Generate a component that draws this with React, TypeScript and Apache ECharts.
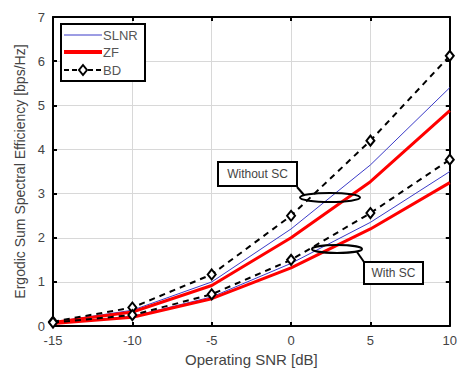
import React, { useEffect, useRef } from "react";
import * as echarts from "echarts";

const snr = [-15, -10, -5, 0, 5, 10];
const bdNoSC = [0.1, 0.42, 1.17, 2.5, 4.2, 6.12];
const slnrNoSC = [0.09, 0.36, 1.0, 2.2, 3.65, 5.4];
const zfNoSC = [0.08, 0.32, 0.92, 2.0, 3.27, 4.88];
const bdSC = [0.08, 0.25, 0.72, 1.5, 2.56, 3.77];
const slnrSC = [0.07, 0.22, 0.66, 1.42, 2.35, 3.5];
const zfSC = [0.06, 0.2, 0.62, 1.32, 2.2, 3.25];
const legendNames = ["SLNR", "ZF", "BD"];

const pair = (ys: number[]) => snr.map((x, i) => [x, ys[i]]);

export default function App() {
  const ref = useRef<HTMLDivElement>(null);
  useEffect(() => {
    if (!ref.current) return;
    const chart = echarts.init(ref.current, null, { renderer: "svg" });
    const font = "Liberation Sans, Arial, sans-serif";
    const blue = "#3b3bc8";
    const red = "#ff0000";
    const slnrStyle = { color: blue, width: 1 };
    const zfStyle = { color: red, width: 3 };
    const bdStyle = { color: "#000", width: 2, type: [6, 5] as any };
    const lineSeries = (name: string, data: number[], ls: any, z: number) => ({
      name,
      type: "line",
      data: pair(data),
      symbol: "none",
      lineStyle: ls,
      itemStyle: { color: ls.color },
      z,
    });
    const bdSeries = (data: number[]) => ({
      name: "BD",
      type: "line",
      data: pair(data),
      symbol: "diamond",
      symbolSize: [8, 10],
      lineStyle: bdStyle,
      itemStyle: { color: "#fff", borderColor: "#000", borderWidth: 2 },
      z: 5,
    });
    const axisCommon = {
      axisLine: { show: true, onZero: false, lineStyle: { color: "#000", width: 2 } },
      axisTick: { inside: true, length: 4, lineStyle: { color: "#000", width: 2 } },
      splitLine: { show: false },
    };
    const legendItems: any[] = [];
    const lx1 = 64;
    const lx2 = 102;
    const ly = [35, 52, 70];
    legendItems.push({
      type: "rect",
      shape: { x: 61, y: 24, width: 84, height: 57 },
      style: { fill: "#fff", stroke: "#000", lineWidth: 2 },
      z: 20,
    });
    legendItems.push({
      type: "line",
      shape: { x1: lx1, y1: ly[0], x2: lx2, y2: ly[0] },
      style: { stroke: blue, lineWidth: 1 },
      z: 21,
    });
    legendItems.push({
      type: "line",
      shape: { x1: lx1, y1: ly[1], x2: lx2, y2: ly[1] },
      style: { stroke: red, lineWidth: 4 },
      z: 21,
    });
    legendItems.push({
      type: "line",
      shape: { x1: lx1, y1: ly[2], x2: lx2, y2: ly[2] },
      style: { stroke: "#000", lineWidth: 2, lineDash: [5, 3] },
      z: 21,
    });
    legendItems.push({
      type: "polygon",
      shape: { points: [[83, ly[2] - 5], [87, ly[2]], [83, ly[2] + 5], [79, ly[2]]] },
      style: { fill: "#fff", stroke: "#000", lineWidth: 2 },
      z: 22,
    });
    legendNames.forEach((n, i) => {
      legendItems.push({
        type: "text",
        x: 103,
        y: ly[i],
        style: {
          text: n,
          fill: "#555",
          fontSize: 13,
          fontFamily: font,
          align: "left",
          verticalAlign: "middle",
        },
        z: 22,
      });
    });
    chart.setOption({
      animation: false,
      textStyle: { fontFamily: font },
      grid: { left: 53, right: 8, top: 17, bottom: 39, show: false },
      xAxis: [
        {
          type: "value",
          min: -15,
          max: 10,
          interval: 5,
          position: "bottom",
          name: "Operating SNR [dB]",
          nameLocation: "middle",
          nameGap: 24,
          nameTextStyle: { color: "#444", fontSize: 15, fontFamily: font },
          axisLabel: { color: "#444", fontSize: 13, margin: 8 },
          ...axisCommon,
          splitLine: { show: true, lineStyle: { color: "#d8d8d8", width: 1 } },
        },
        {
          type: "value",
          min: -15,
          max: 10,
          interval: 5,
          position: "top",
          axisLabel: { show: false },
          ...axisCommon,
        },
      ],
      yAxis: [
        {
          type: "value",
          min: 0,
          max: 7,
          interval: 1,
          position: "left",
          name: "Ergodic Sum Spectral Efficiency [bps/Hz]",
          nameLocation: "middle",
          nameGap: 24,
          nameTextStyle: { color: "#444", fontSize: 14, fontFamily: font },
          axisLabel: { color: "#444", fontSize: 13, margin: 8 },
          ...axisCommon,
          splitLine: { show: true, lineStyle: { color: "#d8d8d8", width: 1 } },
        },
        {
          type: "value",
          min: 0,
          max: 7,
          interval: 1,
          position: "right",
          axisLabel: { show: false },
          ...axisCommon,
        },
      ],
      series: [
        lineSeries("SLNR", slnrNoSC, slnrStyle, 3),
        lineSeries("ZF", zfNoSC, zfStyle, 4),
        bdSeries(bdNoSC),
        lineSeries("SLNR", slnrSC, slnrStyle, 3),
        lineSeries("ZF", zfSC, zfStyle, 4),
        bdSeries(bdSC),
      ],
      graphic: [
        {
          type: "ellipse",
          shape: { cx: 330, cy: 197.5, rx: 30, ry: 4.5 },
          style: { fill: "none", stroke: "#000", lineWidth: 2 },
          z: 10,
        },
        {
          type: "line",
          shape: { x1: 297, y1: 187, x2: 304, y2: 195 },
          style: { stroke: "#000", lineWidth: 2 },
          z: 10,
        },
        {
          type: "rect",
          shape: { x: 218, y: 162, width: 79, height: 24 },
          style: { fill: "#fff", stroke: "#000", lineWidth: 2 },
          z: 10,
        },
        {
          type: "text",
          x: 257.5,
          y: 174,
          style: {
            text: "Without SC",
            fill: "#444",
            fontSize: 12,
            fontFamily: font,
            align: "center",
            verticalAlign: "middle",
          },
          z: 11,
        },
        {
          type: "ellipse",
          shape: { cx: 337, cy: 249, rx: 25, ry: 4 },
          style: { fill: "none", stroke: "#000", lineWidth: 2 },
          z: 10,
        },
        {
          type: "line",
          shape: { x1: 357, y1: 252, x2: 364, y2: 262 },
          style: { stroke: "#000", lineWidth: 2 },
          z: 10,
        },
        {
          type: "rect",
          shape: { x: 364, y: 262, width: 59, height: 22 },
          style: { fill: "#fff", stroke: "#000", lineWidth: 2 },
          z: 10,
        },
        {
          type: "text",
          x: 393.5,
          y: 273,
          style: {
            text: "With SC",
            fill: "#444",
            fontSize: 12,
            fontFamily: font,
            align: "center",
            verticalAlign: "middle",
          },
          z: 11,
        },
        ...legendItems,
      ],
    });
    return () => chart.dispose();
  }, []);
  return <div ref={ref} style={{ width: 460, height: 372, position: "absolute", left: 0, top: 0 }} />;
}
